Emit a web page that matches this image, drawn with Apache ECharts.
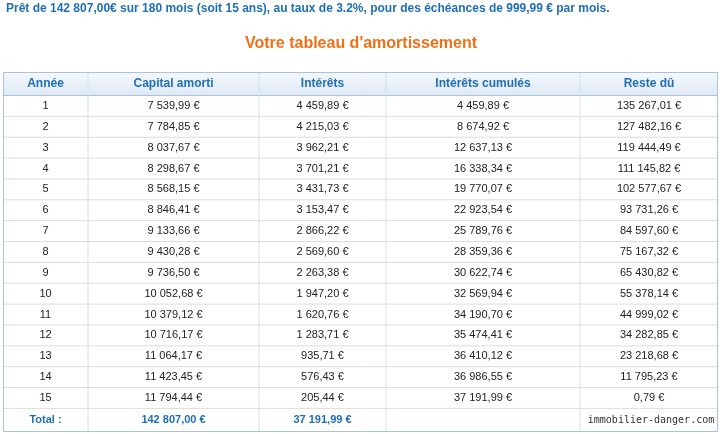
<!DOCTYPE html>
<html>
<head>
<meta charset="utf-8">
<script src="https://cdn.jsdelivr.net/npm/echarts@6/dist/echarts.min.js"></script>
<style>html,body{margin:0;padding:0;background:#fff}#main{width:722px;height:434px}</style>
</head>
<body>
<div id="main"></div>
<script>
var headers = ['Année', 'Capital amorti', 'Intérêts', 'Intérêts cumulés', 'Reste dû'];
var years = ['1','2','3','4','5','6','7','8','9','10','11','12','13','14','15'];
var capital = ['7 539,99 €','7 784,85 €','8 037,67 €','8 298,67 €','8 568,15 €','8 846,41 €','9 133,66 €','9 430,28 €','9 736,50 €','10 052,68 €','10 379,12 €','10 716,17 €','11 064,17 €','11 423,45 €','11 794,44 €'];
var interets = ['4 459,89 €','4 215,03 €','3 962,21 €','3 701,21 €','3 431,73 €','3 153,47 €','2 866,22 €','2 569,60 €','2 263,38 €','1 947,20 €','1 620,76 €','1 283,71 €','935,71 €','576,43 €','205,44 €'];
var cumules = ['4 459,89 €','8 674,92 €','12 637,13 €','16 338,34 €','19 770,07 €','22 923,54 €','25 789,76 €','28 359,36 €','30 622,74 €','32 569,94 €','34 190,70 €','35 474,41 €','36 410,12 €','36 986,55 €','37 191,99 €'];
var reste = ['135 267,01 €','127 482,16 €','119 444,49 €','111 145,82 €','102 577,67 €','93 731,26 €','84 597,60 €','75 167,32 €','65 430,82 €','55 378,14 €','44 999,02 €','34 282,85 €','23 218,68 €','11 795,23 €','0,79 €'];
var totals = ['Total :', '142 807,00 €', '37 191,99 €', '', ''];

var colX = [3, 88, 259, 386, 580, 718];
var headTop = 72, rowTop = 95.5, rowH = 20.86;
var font = '"Liberation Sans", Arial, sans-serif';
var blue = '#1f6fb8', line = '#dcdcdc', border = '#a9c3dd';

var g = [];
g.push({type:'text', left:6, top:3, style:{text:'Prêt de 142 807,00€ sur 180 mois (soit 15 ans), au taux de 3.2%, pour des échéances de 999,99 € par mois.', font:'bold 12px '+font, fill:blue}});
g.push({type:'text', x:361, y:44, style:{text:"Votre tableau d'amortissement", font:'bold 16px '+font, fill:'#f07016', align:'center', verticalAlign:'middle'}});
g.push({type:'rect', shape:{x:colX[0], y:headTop, width:colX[5]-colX[0], height:rowTop-headTop}, style:{fill:new echarts.graphic.LinearGradient(0,0,0,1,[{offset:0,color:'#f4f8fc'},{offset:1,color:'#dfe9f4'}])}});
headers.forEach(function (h, i) {
  g.push({type:'text', x:(colX[i]+colX[i+1])/2, y:(headTop+rowTop)/2, style:{text:h, font:'bold 12px '+font, fill:blue, align:'center', verticalAlign:'middle'}});
});
var cols = [years, capital, interets, cumules, reste];
var n = years.length;
for (var r = 0; r <= n; r++) {
  var y = rowTop + r*rowH;
  g.push({type:'line', shape:{x1:colX[0], y1:y, x2:colX[5], y2:y}, style:{stroke:r===0?border:line, lineWidth:1}});
}
for (var r = 0; r < n; r++) {
  var cy = rowTop + (r+0.5)*rowH;
  cols.forEach(function (c, i) {
    g.push({type:'text', x:(colX[i]+colX[i+1])/2, y:cy, style:{text:c[r], font:'11px '+font, fill:'#222', align:'center', verticalAlign:'middle'}});
  });
}
var totTop = rowTop + n*rowH, bottom = 431;
totals.forEach(function (t, i) {
  g.push({type:'text', x:(colX[i]+colX[i+1])/2, y:(totTop+bottom)/2, style:{text:t, font:'bold 11px '+font, fill:blue, align:'center', verticalAlign:'middle'}});
});
for (var i = 1; i < 5; i++) {
  g.push({type:'line', shape:{x1:colX[i], y1:headTop, x2:colX[i], y2:bottom}, style:{stroke:'#d4e0ec', lineWidth:1}});
}
g.push({type:'rect', shape:{x:colX[0]+0.5, y:headTop+0.5, width:colX[5]-colX[0]-1, height:bottom-headTop}, style:{fill:null, stroke:border, lineWidth:1}});
g.push({type:'rect', shape:{x:584, y:411, width:132, height:18}, style:{fill:'#fff'}});
g.push({type:'text', x:651, y:420, style:{text:'immobilier-danger.com', font:'10px "DejaVu Sans Mono", monospace', fill:'#333', align:'center', verticalAlign:'middle'}});

var chart = echarts.init(document.getElementById('main'));
chart.setOption({graphic:{elements:g}});
</script>
</body>
</html>
